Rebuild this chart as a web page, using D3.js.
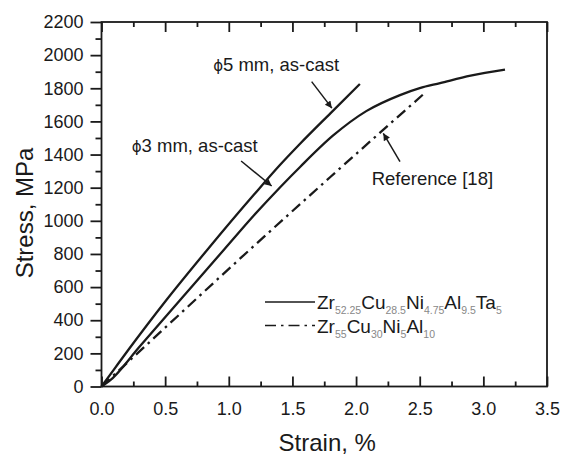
<!DOCTYPE html>
<html>
<head>
<meta charset="utf-8">
<script src="https://cdn.jsdelivr.net/npm/d3@7"></script>
<style>
  body { margin: 0; background: #fff; }
  svg text { font-family: "Liberation Sans", Arial, sans-serif; fill: #1a1a1a; }
  .axis path, .axis line { stroke: #1a1a1a; stroke-width: 1.8; }
</style>
</head>
<body>
<svg id="chart" width="569" height="457"></svg>
<script>
// Strain (%) / stress (MPa)
var cast5Strain = [0, 0.1, 0.21, 0.51, 0.83, 1.2, 1.4, 1.56, 1.8, 2.03];
var cast5Stress = [0, 105, 220, 522, 824, 1160, 1335, 1465, 1650, 1826];

var cast3Strain = [0, 0.06, 0.3, 0.635, 0.967, 1.2, 1.4, 1.56, 1.82, 2.08, 2.345, 2.5, 2.66, 2.9, 3.17];
var cast3Stress = [0, 32, 241, 537, 830, 1035, 1200, 1325, 1515, 1662, 1759, 1801, 1831, 1876, 1912];

var refStrain = [0, 0.5, 1.05, 1.8, 2.53];
var refStress = [0, 355, 745, 1266, 1765];

var xTicks = [0, 0.5, 1, 1.5, 2, 2.5, 3, 3.5];
var yTicks = [0, 200, 400, 600, 800, 1000, 1200, 1400, 1600, 1800, 2000, 2200];

var svg = d3.select("#chart");
var margin = {top: 22, right: 22, bottom: 70.5, left: 101.5};
var width = 569 - margin.left - margin.right;
var height = 457 - margin.top - margin.bottom;

var g = svg.append("g")
    .attr("transform", "translate(" + margin.left + "," + margin.top + ")");

var x = d3.scaleLinear().domain([0, 3.5]).range([0, width]);
var y = d3.scaleLinear().domain([0, 2200]).range([height, 0]);

function zip(xs, ys) { return xs.map(function(v, i) { return {x: v, y: ys[i]}; }); }

// minor ticks
var xMinor = d3.range(0.25, 3.5, 0.5);
var yMinor = d3.range(100, 2200, 200);

// bottom axis: ticks inward
g.append("g").attr("class", "axis")
    .attr("transform", "translate(0," + height + ")")
    .call(d3.axisBottom(x).tickValues(xTicks).tickFormat(d3.format(".1f")).tickSize(-10).tickPadding(16))
    .call(function(a) { a.select(".domain").remove(); })
    .selectAll("text").style("font-size", "18px");
g.append("g").attr("class", "axis")
    .attr("transform", "translate(0," + height + ")")
    .call(d3.axisBottom(x).tickValues(xMinor).tickFormat("").tickSize(-5))
    .call(function(a) { a.select(".domain").remove(); });

// top axis: ticks inward, no labels
g.append("g").attr("class", "axis")
    .call(d3.axisTop(x).tickValues(xTicks).tickFormat("").tickSize(-10))
    .call(function(a) { a.select(".domain").remove(); });
g.append("g").attr("class", "axis")
    .call(d3.axisTop(x).tickValues(xMinor).tickFormat("").tickSize(-5))
    .call(function(a) { a.select(".domain").remove(); });

// left axis: ticks outward
g.append("g").attr("class", "axis")
    .call(d3.axisLeft(y).tickValues(yTicks).tickFormat(d3.format("d")).tickSize(11).tickPadding(7))
    .call(function(a) { a.select(".domain").remove(); })
    .selectAll("text").style("font-size", "18px");
g.append("g").attr("class", "axis")
    .call(d3.axisLeft(y).tickValues(yMinor).tickFormat("").tickSize(6))
    .call(function(a) { a.select(".domain").remove(); });

// frame
g.append("rect")
    .attr("width", width).attr("height", height)
    .attr("fill", "none").attr("stroke", "#1a1a1a").attr("stroke-width", 1.8);

// axis titles
svg.append("text")
    .attr("x", margin.left + width / 2 + 3).attr("y", 451)
    .attr("text-anchor", "middle").style("font-size", "24px")
    .text("Strain, %");
svg.append("text")
    .attr("transform", "translate(33," + 213 + ") rotate(-90)")
    .attr("text-anchor", "middle").style("font-size", "24px")
    .text("Stress, MPa");

// curves
var line = d3.line()
    .x(function(d) { return x(d.x); })
    .y(function(d) { return y(d.y); })
    .curve(d3.curveMonotoneX);

g.append("path").datum(zip(cast5Strain, cast5Stress))
    .attr("d", line).attr("fill", "none")
    .attr("stroke", "#1a1a1a").attr("stroke-width", 2.3);
g.append("path").datum(zip(cast3Strain, cast3Stress))
    .attr("d", line).attr("fill", "none")
    .attr("stroke", "#1a1a1a").attr("stroke-width", 2.3);
g.append("path").datum(zip(refStrain, refStress))
    .attr("d", line).attr("fill", "none")
    .attr("stroke", "#1a1a1a").attr("stroke-width", 2.3)
    .attr("stroke-dasharray", "11,5,2.5,5");

// arrows
svg.append("defs").append("marker")
    .attr("id", "head")
    .attr("viewBox", "0 0 10 10")
    .attr("refX", 10).attr("refY", 5)
    .attr("markerWidth", 10).attr("markerHeight", 7)
    .attr("markerUnits", "userSpaceOnUse")
    .attr("orient", "auto")
  .append("path").attr("d", "M0,0L10,5L0,10z").attr("fill", "#1a1a1a");

var arrows = [
  {x1: 1.651, y1: 1840, x2: 1.81, y2: 1680},
  {x1: 1.097, y1: 1361, x2: 1.337, y2: 1210},
  {x1: 2.345, y1: 1357, x2: 2.214, y2: 1528}
];
g.selectAll(".arrow").data(arrows).enter().append("line")
    .attr("class", "arrow")
    .attr("x1", function(d) { return x(d.x1); })
    .attr("y1", function(d) { return y(d.y1); })
    .attr("x2", function(d) { return x(d.x2); })
    .attr("y2", function(d) { return y(d.y2); })
    .attr("stroke", "#1a1a1a").attr("stroke-width", 1.5)
    .attr("marker-end", "url(#head)");

// labels
var labels = [
  {x: 0.877, y: 1904, phi: true, t: "5 mm, as-cast"},
  {x: 0.237, y: 1415, phi: true, t: "3 mm, as-cast"},
  {x: 2.123, y: 1216, phi: false, t: "Reference [18]"}
];
labels.forEach(function(l) {
  var t = g.append("text")
      .attr("x", x(l.x)).attr("y", y(l.y))
      .style("font-size", "18.5px");
  if (l.phi) t.append("tspan").style("font-family", "DejaVu Sans").style("font-size", "15px").text("\u03D5");
  t.append("tspan").text(l.t);
});

// legend
var legend = [
  {dash: null, parts: [["Zr", "52.25"], ["Cu", "28.5"], ["Ni", "4.75"], ["Al", "9.5"], ["Ta", "5"]]},
  {dash: "11,5,2.5,5", parts: [["Zr", "55"], ["Cu", "30"], ["Ni", "5"], ["Al", "10"]]}
];
var lg = svg.append("g").attr("transform", "translate(265,302)");
legend.forEach(function(item, i) {
  var row = lg.append("g").attr("transform", "translate(0," + (i * 23.5) + ")");
  row.append("line").attr("x1", 0).attr("x2", 50).attr("y1", 0).attr("y2", 0)
      .attr("stroke", "#1a1a1a").attr("stroke-width", 1.6)
      .attr("stroke-dasharray", item.dash);
  var t = row.append("text").attr("x", 52).attr("y", 7).style("font-size", "19px");
  item.parts.forEach(function(p, j) {
    t.append("tspan").attr("dy", j === 0 ? 0 : -5).text(p[0]);
    t.append("tspan").attr("dy", 5).style("font-size", "10.5px").style("fill", "#888").text(p[1]);
  });
});
</script>
</body>
</html>
